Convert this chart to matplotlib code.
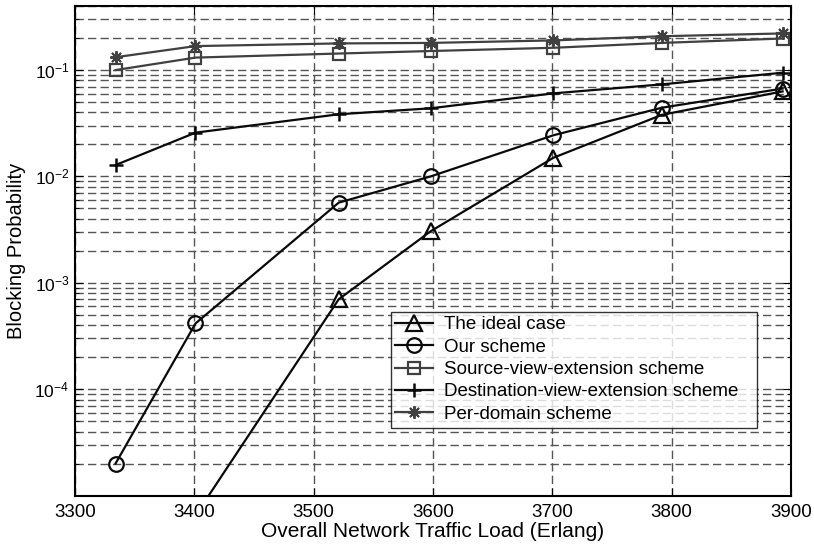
import matplotlib
matplotlib.use("Agg")
import matplotlib.pyplot as plt
from matplotlib.ticker import LogLocator, NullFormatter, FixedLocator

plt.rcParams['font.family'] = ['Liberation Sans', 'DejaVu Sans']
plt.rcParams['mathtext.fontset'] = 'custom'
plt.rcParams['mathtext.rm'] = 'Liberation Sans'
plt.rcParams['mathtext.it'] = 'Liberation Sans:italic'
plt.rcParams['mathtext.bf'] = 'Liberation Sans:bold'

load = [3334, 3401, 3521, 3598, 3701, 3792, 3893]
load_ideal = [3401, 3521, 3598, 3701, 3792, 3893]
ideal = [6.5e-6, 7.0e-4, 3.05e-3, 0.0150, 0.0380, 0.0630]
ours = [2.0e-5, 4.15e-4, 5.67e-3, 0.0100, 0.0244, 0.0443, 0.0670]
source = [0.100, 0.131, 0.143, 0.151, 0.162, 0.180, 0.198]
dest = [0.0128, 0.0258, 0.0384, 0.0437, 0.0604, 0.0734, 0.0944]
perdomain = [0.132, 0.168, 0.178, 0.180, 0.190, 0.208, 0.221]

labels = ['The ideal case', 'Our scheme', 'Source-view-extension scheme',
          'Destination-view-extension scheme', 'Per-domain scheme']
xticks = [3300, 3400, 3500, 3600, 3700, 3800, 3900]
yticks = [1e-4, 1e-3, 1e-2, 1e-1]

fig = plt.figure(figsize=(8.14, 5.47), dpi=100)
ax = fig.add_axes([0.0921, 0.094, 0.8796, 0.895])

dark = '#0a0a0a'
gray = '#404040'
lw = 1.6
ax.plot(load_ideal, ideal, color=dark, lw=lw, marker='^', ms=12, mfc='none', mew=1.6, label=labels[0], zorder=5)
ax.plot(load, ours, color=dark, lw=lw, marker='o', ms=10.5, mfc='none', mew=1.6, label=labels[1], zorder=5)
ax.plot(load, source, color=gray, lw=lw, marker='s', ms=9, mfc='none', mew=1.6, label=labels[2], zorder=5)
ax.plot(load, dest, color=dark, lw=lw, marker='+', ms=10, mew=1.8, label=labels[3], zorder=5)
ax.plot(load, perdomain, color=gray, lw=lw, marker=(8, 2, 0), ms=9, mew=1.4, label=labels[4], zorder=5)

ax.set_yscale('log')
ax.set_xlim(3300, 3900)
ax.set_ylim(1e-5, 0.4)
ax.set_xticks(xticks)
ax.yaxis.set_major_locator(FixedLocator(yticks))
ax.yaxis.set_minor_locator(LogLocator(base=10, subs=range(2, 10), numticks=50))
ax.yaxis.set_minor_formatter(NullFormatter())

gkw = dict(color='#555555', linestyle=(0, (6, 3)), linewidth=1.0)
ax.grid(True, which='major', axis='both', **gkw)
ax.grid(True, which='minor', axis='y', **gkw)
ax.set_axisbelow(True)

ax.tick_params(which='both', direction='in', top=True, right=True)
ax.tick_params(axis='x', labelsize=13.5, pad=6)
ax.tick_params(axis='y', labelsize=12.5, pad=4)
ax.tick_params(which='major', length=6)
ax.tick_params(which='minor', length=3)
for s in ax.spines.values():
    s.set_linewidth(1.5)
    s.set_color('black')

ax.set_xlabel('Overall Network Traffic Load (Erlang)', fontsize=15, labelpad=1)
ax.set_ylabel('Blocking Probability', fontsize=14.5, labelpad=6)

leg = ax.legend(loc='upper left', bbox_to_anchor=(0.441, 0.376, 0.511, 0.0), mode='expand',
                fontsize=13.5, frameon=True, fancybox=False, borderpad=0.25, labelspacing=0.28,
                handlelength=2.0, handletextpad=0.6, borderaxespad=0.0)
leg.get_frame().set_edgecolor('black')
leg.get_frame().set_linewidth(1.0)
leg.set_zorder(10)

fig.savefig('out.png', dpi=100)
